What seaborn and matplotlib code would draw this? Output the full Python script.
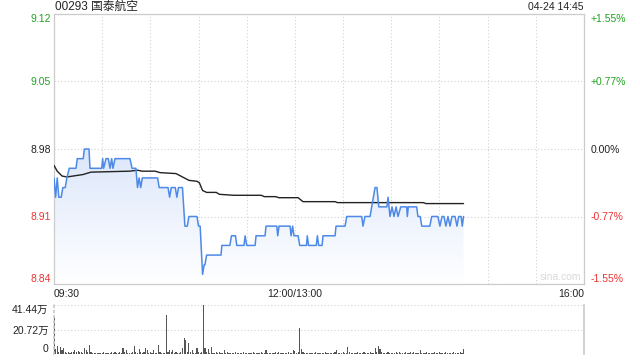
import numpy as np
import matplotlib
matplotlib.use("Agg")
import matplotlib.pyplot as plt
import seaborn as sns
from matplotlib.patches import Polygon
from matplotlib.colors import LinearSegmentedColormap

TITLE = "00293 国泰航空"
STAMP = "04-24 14:45"
WATERMARK = "sina.com"
PREV_CLOSE = 8.98
PRICE_TICKS = [9.12, 9.05, 8.98, 8.91, 8.84]
PCT_LABELS = ["+1.55%", "+0.77%", "0.00%", "-0.77%", "-1.55%"]
X_TICKS = [0, 150, 330]
X_LABELS = ["09:30", "12:00/13:00", "16:00"]
VOL_TICKS = [41.44, 20.72, 0]
VOL_LABELS = ["41.44万", "20.72万", "0"]

# trading minutes since 09:30 (lunch break removed)
PRICE_T = [0, 1, 2, 3, 4.5, 5.5, 7, 8, 9.5, 13.7, 14.5, 18.2, 18.9, 21.8, 22.4,
           29.7, 30.3, 30.9, 32.4, 33.8, 34.9, 35.9, 36.7, 38, 47.3, 48.6, 51,
           52, 53, 54, 55, 64.5, 65.5, 67, 71, 72, 73, 75.5, 76.5, 77.5, 80,
           81.5, 83, 84, 89, 90, 91, 92.5, 93.5, 94, 95, 104, 104.5, 109.5,
           110.5, 113, 113.8, 118.3, 119, 120, 125.2, 125.8, 131.4, 132, 138.7,
           139.3, 140.1, 147, 147.6, 148.6, 149.4, 152, 153, 157.2, 157.7, 158.5,
           163.3, 164, 164.8, 166.9, 167.5, 175, 175.6, 181.2, 182.3, 191.6,
           192.4, 193.6, 196.8, 197.8, 199.9, 201.1, 202.2, 207.3, 208, 209.2,
           210.5, 211.7, 213, 214.2, 215.9, 219.6, 220, 220.6, 225.8, 226.6, 228,
           229, 234, 235.2, 239, 240.3, 241.6, 242.8, 244, 245.3, 246.6, 247.8,
           249.7, 250.9, 252, 253.5, 254.2, 255]
PRICE_P = [8.95, 8.93, 8.95, 8.93, 8.93, 8.94, 8.94, 8.95, 8.96, 8.96, 8.97, 8.97,
           8.98, 8.98, 8.96, 8.96, 8.97, 8.96, 8.97, 8.97, 8.96, 8.97, 8.96, 8.97,
           8.97, 8.96, 8.96, 8.94, 8.95, 8.94, 8.95, 8.95, 8.94, 8.94, 8.94, 8.93,
           8.94, 8.94, 8.93, 8.94, 8.94, 8.90, 8.90, 8.91, 8.91, 8.90, 8.90, 8.85,
           8.86, 8.86, 8.87, 8.87, 8.88, 8.88, 8.89, 8.89, 8.88, 8.88, 8.89, 8.88,
           8.88, 8.89, 8.89, 8.90, 8.90, 8.89, 8.90, 8.90, 8.89, 8.90, 8.89, 8.89,
           8.88, 8.88, 8.89, 8.88, 8.88, 8.89, 8.88, 8.88, 8.89, 8.89, 8.90, 8.90,
           8.91, 8.91, 8.90, 8.91, 8.91, 8.92, 8.94, 8.94, 8.92, 8.92, 8.93, 8.91,
           8.92, 8.91, 8.92, 8.91, 8.92, 8.92, 8.91, 8.92, 8.92, 8.91, 8.91, 8.90,
           8.90, 8.91, 8.91, 8.90, 8.91, 8.91, 8.90, 8.91, 8.90, 8.91, 8.91, 8.90,
           8.91, 8.91, 8.90, 8.91]

AVG_T = [0, 2, 5, 8, 12, 18, 23, 47, 52, 55, 63, 66, 76, 80, 84, 89, 90.5, 92.5,
         95, 101, 103, 112, 129, 131, 138, 140, 152, 155, 175, 176.5, 230, 231.5, 255]
AVG_P = [8.963, 8.957, 8.952, 8.951, 8.952, 8.9535, 8.956, 8.957, 8.958, 8.957,
         8.957, 8.9555, 8.9545, 8.951, 8.9475, 8.9465, 8.945, 8.937, 8.935, 8.935,
         8.933, 8.932, 8.932, 8.9306, 8.9306, 8.9295, 8.9295, 8.9254, 8.9254,
         8.9244, 8.9244, 8.9234, 8.9234]

# volume per minute, in 万 shares
VOL = [31.6, 4, 7, 2, 6, 3, 5, 2, 1, 1.5, 1, 2, 1.5, 3, 2, 2.5,
       2, 1.5, 1, 5, 3, 2, 8, 1.5, 1, 1, 0.8, 1, 1.2, 0.8, 1, 1.5,
       1, 0.8, 1.2, 1, 1.5, 1, 2, 1, 1.2, 1.5, 1, 5, 2, 3, 1, 1.2,
       1, 1.5, 7, 2, 1, 4.5, 1.5, 1, 2, 5, 3, 1, 1.5, 1, 3, 1.2,
       1, 7.5, 1.5, 1, 1.2, 1, 33, 1.5, 3, 2, 3, 1, 2, 1.2, 1, 1.5,
       5, 13.5, 12, 2, 9.3, 1.5, 3, 1, 1.2, 5, 1.5, 1, 2, 41.44, 5, 1.5,
       4, 1, 6, 1.2, 1, 2, 1, 1.5, 1, 1.2, 3, 1, 1.5, 1, 0.8, 1.2,
       1, 1.5, 1, 0.8, 1.2, 1, 1.5, 1, 0.8, 1, 1.2, 1, 1.5, 1, 1, 1.2,
       1, 1.5, 1, 1.2, 3.5, 1, 0.8, 1, 1.2, 1, 2, 1, 1.5, 1, 0.8, 1,
       1.2, 1, 1.5, 1, 1.2, 3, 2.5, 1, 1.5, 22, 4, 1.5, 1, 1.2, 1, 0.8,
       1, 1.2, 1, 1.5, 1, 0.8, 1.2, 1, 1, 1.5, 1, 1.2, 1, 0.8, 1, 1.5,
       3, 1, 1.2, 1, 1.5, 1, 1.2, 6, 1.5, 1, 1.2, 1, 1, 2, 1, 1.2,
       1, 1.5, 1, 1.2, 1, 1.5, 1, 1.2, 5, 1.5, 7, 4, 1.5, 1, 1.2, 1,
       1.5, 1, 1.2, 1, 1, 1.5, 1, 2, 1.2, 1, 1, 1.5, 1, 1.2, 2, 1,
       1.5, 1, 1.2, 1, 3, 1, 1.2, 1, 1.5, 1, 1, 1.2, 1, 1.5, 1, 1.2,
       2, 1, 1.2, 1, 1.5, 1, 1, 1.2, 1, 1.5, 1, 1.2, 1, 1.5, 1, 4]
VOL_T = list(range(len(VOL)))

GREEN = "#1fa31f"
RED = "#ee3333"
BLACK = "#222222"
GRID = "#d2d2d2"
FRAME = "#cccccc"
LINE = "#4d8ae8"

sns.set_theme(style="white")
plt.rcParams["font.family"] = ["Liberation Sans", "Noto Sans CJK SC", "DejaVu Sans"]

W, H = 640, 360
fig = plt.figure(figsize=(6.4, 3.6), dpi=100)
ax = fig.add_axes([54 / W, 1 - 284 / H, 530 / W, 270 / H])
axv = fig.add_axes([54 / W, 1 - 354 / H, 530 / W, 49 / H])

xmax = X_TICKS[-1]
ymin, ymax = min(PRICE_TICKS), max(PRICE_TICKS)

# gradient area under the price line
poly = np.column_stack([[PRICE_T[0]] + PRICE_T + [PRICE_T[-1]],
                        [ymin] + PRICE_P + [ymin]])
patch = Polygon(poly, closed=True, facecolor="none", edgecolor="none")
ax.add_patch(patch)
cmap = LinearSegmentedColormap.from_list("fade", ["#ffffff", "#dce7fb"])
grad = np.linspace(0, 1, 256).reshape(-1, 1)
im = ax.imshow(grad, extent=[PRICE_T[0], PRICE_T[-1], ymin, max(PRICE_P)],
               origin="lower", cmap=cmap, aspect="auto", zorder=1)
im.set_clip_path(patch)

sns.lineplot(x=AVG_T, y=AVG_P, ax=ax, color=BLACK, lw=1.0, estimator=None,
             sort=False, zorder=3)
sns.lineplot(x=PRICE_T, y=PRICE_P, ax=ax, color=LINE, lw=1.1, estimator=None,
             sort=False, zorder=4)

ax.set_xlim(0, xmax)
ax.set_ylim(ymin, ymax)
ax.set_xlabel("")
ax.set_ylabel("")
ax.set_xticks(X_TICKS, X_LABELS)
ax.set_xticks(list(range(30, xmax, 30)), minor=True)
ax.set_yticks(PRICE_TICKS, [f"{v:.2f}" for v in PRICE_TICKS])
ax.grid(True, which="both", axis="x", ls=(0, (1, 2)), color=GRID, lw=0.8)
ax.grid(True, which="major", axis="y", ls=(0, (1, 2)), color=GRID, lw=0.8)
ax.tick_params(axis="both", which="both", length=0, labelsize=7.5)
ax.tick_params(axis="x", pad=3.5, colors="#222222")
ax.tick_params(axis="y", pad=2.5)
for s in ax.spines.values():
    s.set_color(FRAME)
    s.set_linewidth(0.9)

xl = ax.get_xticklabels()
xl[0].set_ha("left")
xl[-1].set_ha("right")

def price_color(v):
    if v > PREV_CLOSE + 1e-9:
        return GREEN
    if v < PREV_CLOSE - 1e-9:
        return RED
    return BLACK

for lab, v in zip(ax.get_yticklabels(), PRICE_TICKS):
    lab.set_color(price_color(v))
yl = ax.get_yticklabels()
yl[0].set_va("top")
yl[-1].set_va("bottom")

axr = ax.twinx()
axr.set_ylim(ymin, ymax)
axr.set_yticks(PRICE_TICKS, PCT_LABELS)
axr.tick_params(axis="y", length=0, labelsize=7.5, pad=5)
for lab, v in zip(axr.get_yticklabels(), PRICE_TICKS):
    lab.set_color(price_color(v))
yr = axr.get_yticklabels()
yr[0].set_va("top")
yr[-1].set_va("bottom")
for s in axr.spines.values():
    s.set_visible(False)
axr.grid(False)

ax.text(0.995, 0.008, WATERMARK, transform=ax.transAxes, ha="right", va="bottom",
        color="#dadada", fontsize=7.5)

# volume panel
axv.bar(VOL_T, VOL, width=0.7, color="#555555", linewidth=0)
axv.set_xlim(0, xmax)
axv.set_ylim(0, max(VOL_TICKS))
axv.set_xticks([])
axv.set_yticks(VOL_TICKS, VOL_LABELS)
axv.grid(True, axis="y", ls=(0, (1, 2)), color=GRID, lw=0.8)
axv.tick_params(axis="y", length=0, labelsize=7.5, pad=4, colors="#222222")
vl = axv.get_yticklabels()
vl[0].set_va("top")
vl[-1].set_va("bottom")
axv.spines["top"].set_visible(False)
axv.spines["bottom"].set_visible(False)
axv.spines["left"].set_color(FRAME)
axv.spines["left"].set_linestyle((0, (1, 2)))
axv.spines["right"].set_color(FRAME)

fig.text(55 / W, 1 - 7 / H, TITLE, ha="left", va="center", fontsize=8.5,
         color="#222222")
fig.text(584 / W, 1 - 7 / H, STAMP, ha="right", va="center", fontsize=7.5,
         color="#222222")

fig.savefig("out.png", dpi=100)
